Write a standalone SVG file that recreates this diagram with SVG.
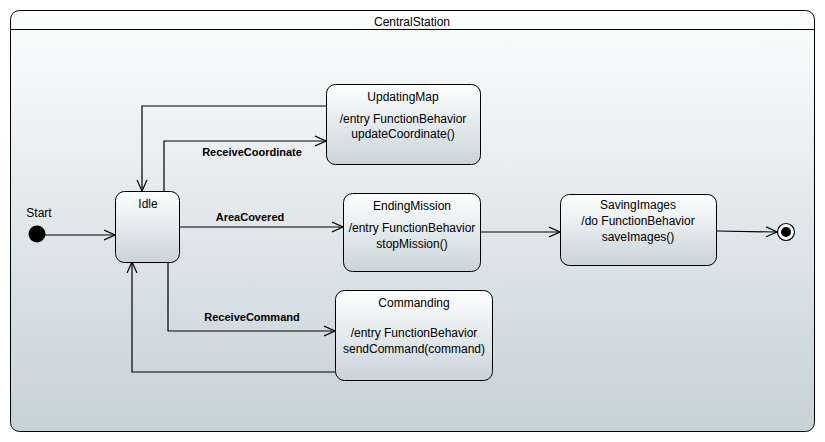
<svg xmlns="http://www.w3.org/2000/svg" width="825" height="442" viewBox="0 0 825 442">
<defs>
<linearGradient id="bg" x1="0" y1="0" x2="0" y2="1">
<stop offset="0" stop-color="#fcfdfd"/>
<stop offset="1" stop-color="#c5d2d7"/>
</linearGradient>
<linearGradient id="ng" x1="0" y1="0" x2="0" y2="1">
<stop offset="0" stop-color="#ffffff"/>
<stop offset="1" stop-color="#c8d4d9"/>
</linearGradient>
<marker id="arr" markerWidth="12" markerHeight="12" refX="11" refY="6" orient="auto" markerUnits="userSpaceOnUse">
<path d="M0,1 L11,6 L0,11" fill="none" stroke="#000" stroke-width="1.2"/>
</marker>
<style>
.st{fill:url(#ng);stroke:#000;stroke-width:1}
.t{font-family:"Liberation Sans",Arial,sans-serif;font-size:12px;fill:#000;text-anchor:middle}
.lb{font-family:"Liberation Sans",Arial,sans-serif;font-size:11px;font-weight:bold;fill:#000;text-anchor:middle}
.c{fill:none;stroke:#000;stroke-width:1.2;marker-end:url(#arr)}
</style>
</defs>
<rect x="0" y="0" width="825" height="442" fill="#ffffff"/>
<g id="CentralStation">
<rect x="10.5" y="10.5" width="804" height="421" rx="9" fill="url(#bg)" stroke="#000" stroke-width="1"/>
<line x1="10.5" y1="29.5" x2="814.5" y2="29.5" stroke="#000" stroke-width="1"/>
<text class="t" x="412" y="26">CentralStation</text>
</g>
<g id="connectors">
<path class="c" d="M45,235 H115"/>
<path class="c" d="M326,106 H142 V191"/>
<path class="c" d="M164,191 V141 H326"/>
<path class="c" d="M179,227 H343"/>
<path class="c" d="M168,262 V331 H335"/>
<path class="c" d="M335,372 H132 V262"/>
<path class="c" d="M480,232 H560"/>
<path class="c" d="M717,231 L777,232"/>
<text class="lb" x="252" y="156">ReceiveCoordinate</text>
<text class="lb" x="250" y="221">AreaCovered</text>
<text class="lb" x="252" y="321">ReceiveCommand</text>
</g>
<g id="Start">
<circle cx="37" cy="234" r="8.5" fill="#000"/>
<text class="t" x="39" y="217">Start</text>
</g>
<g id="Idle">
<rect class="st" x="115.5" y="191.5" width="64" height="71" rx="9"/>
<text class="t" x="148" y="208">Idle</text>
</g>
<g id="UpdatingMap">
<rect class="st" x="326.5" y="84.5" width="154" height="80" rx="9"/>
<text class="t" x="403" y="101">UpdatingMap</text>
<text class="t" x="403" y="123">/entry FunctionBehavior</text>
<text class="t" x="403" y="138">updateCoordinate()</text>
</g>
<g id="EndingMission">
<rect class="st" x="343.5" y="193.5" width="137" height="78" rx="9"/>
<text class="t" x="412" y="210">EndingMission</text>
<text class="t" x="412" y="232">/entry FunctionBehavior</text>
<text class="t" x="412" y="248">stopMission()</text>
</g>
<g id="SavingImages">
<rect class="st" x="560.5" y="194.5" width="156" height="71" rx="9"/>
<text class="t" x="638" y="209">SavingImages</text>
<text class="t" x="638" y="225">/do FunctionBehavior</text>
<text class="t" x="638" y="241">saveImages()</text>
</g>
<g id="Commanding">
<rect class="st" x="335.5" y="290.5" width="157" height="90" rx="9"/>
<text class="t" x="414" y="307">Commanding</text>
<text class="t" x="414" y="337">/entry FunctionBehavior</text>
<text class="t" x="414" y="353">sendCommand(command)</text>
</g>
<g id="Final">
<circle cx="786" cy="232" r="8.5" fill="#fff" stroke="#000" stroke-width="1.2"/>
<circle cx="786" cy="232" r="5" fill="#000"/>
</g>
</svg>
